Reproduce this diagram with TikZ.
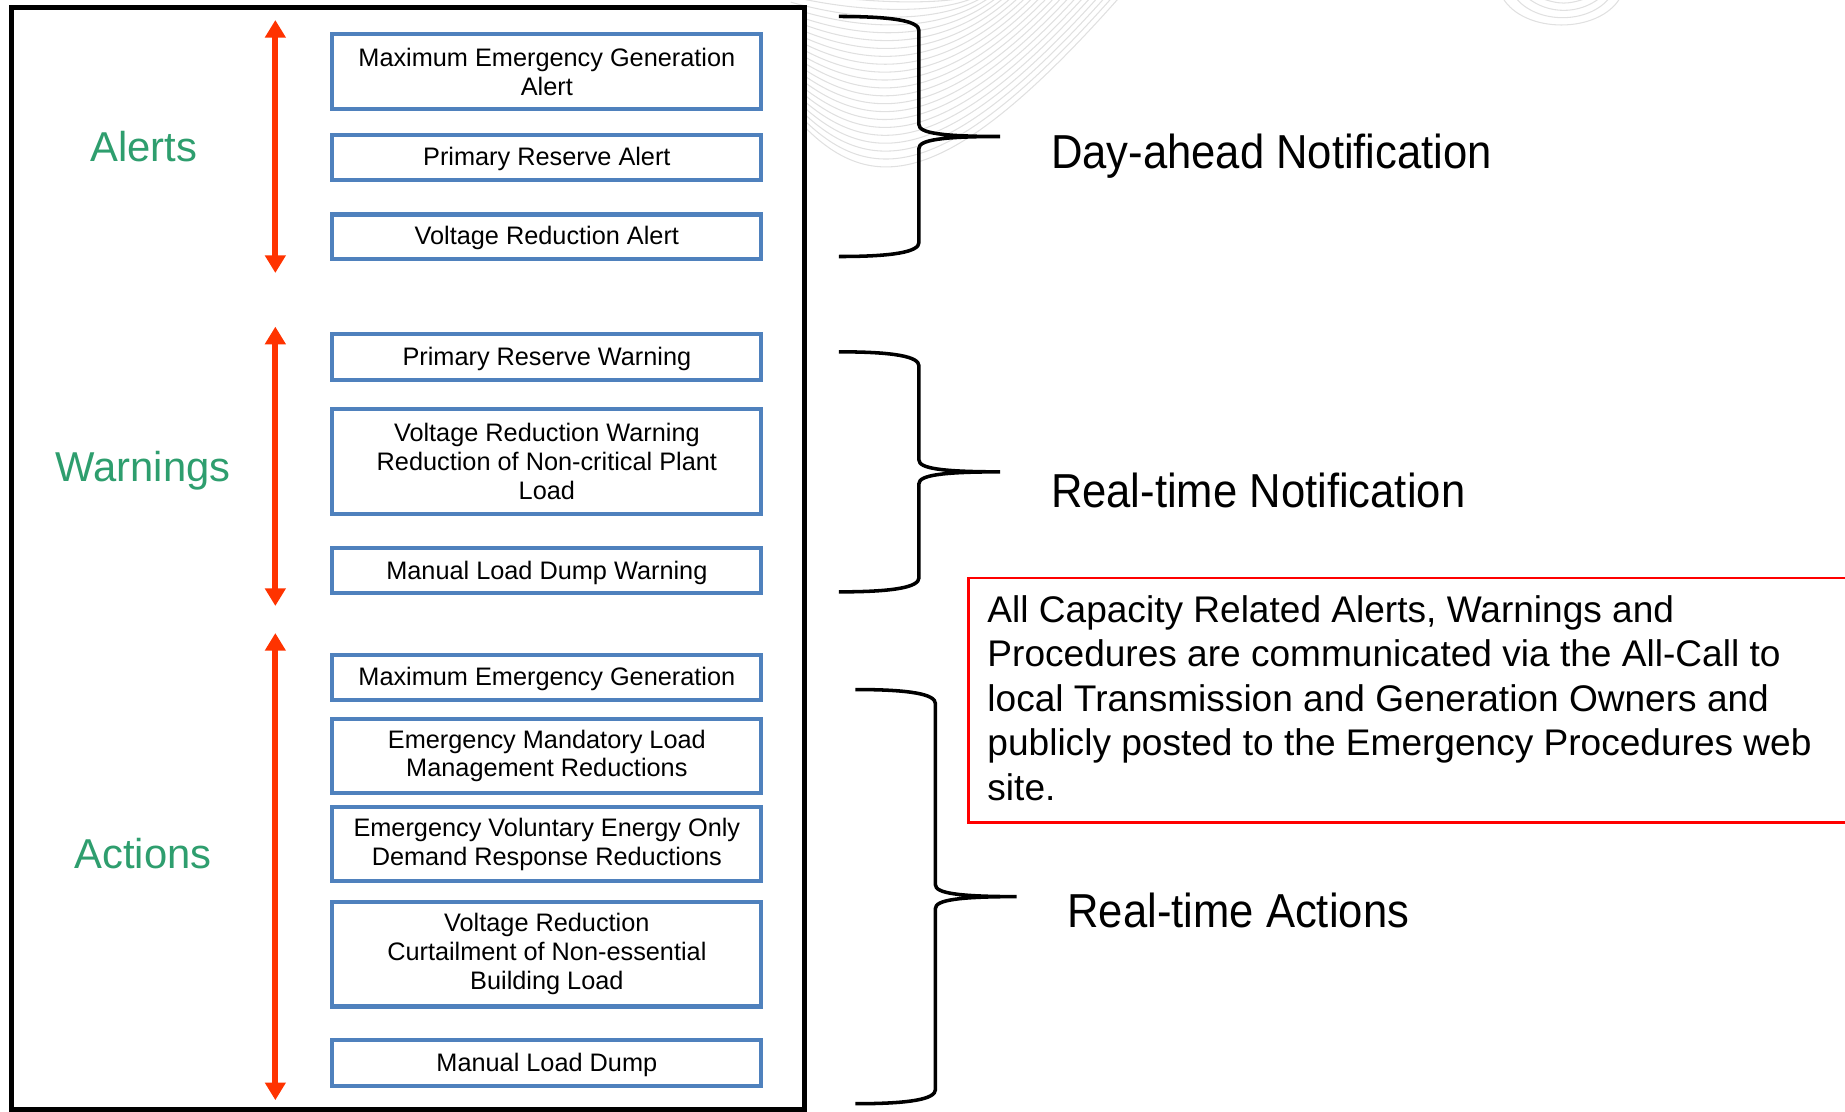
\documentclass[tikz,border=0pt]{standalone}
\usepackage{fontspec}
\setmainfont{Liberation Sans}
\newfontfamily\narrowfont[FakeStretch=0.915]{Liberation Sans}
\usetikzlibrary{arrows.meta}
\definecolor{boxblue}{RGB}{79,129,189}
\definecolor{arrowred}{RGB}{255,51,0}
\definecolor{lblgreen}{RGB}{46,158,110}
\definecolor{bgline}{RGB}{224,224,224}
\begin{document}
\begin{tikzpicture}[x=1pt,y=-1pt,
  stepbox/.style={draw=boxblue, line width=3.5pt, fill=white, minimum width=364.5pt,
    inner sep=0pt, align=center, font=\fontsize{21.5}{24.5}\selectfont},
  oneline/.style={text height=16pt, text depth=2pt},
  grouplabel/.style={text=lblgreen, font=\fontsize{35.5}{42}\selectfont, inner sep=0pt, anchor=base},
  phaselabel/.style={font=\narrowfont\fontsize{40.5}{48}\selectfont, anchor=base west, inner sep=0pt},
  levelarrow/.style={draw=arrowred, line width=5pt,
    {Triangle[width=17pt,length=15pt]}-{Triangle[width=17pt,length=15pt]}},
  bracket/.style={draw=black, line width=3pt},
  bgcurve/.style={draw=bgline, line width=0.9pt},
]
\useasboundingbox (0,0) rectangle (1568,945);

% faint background curves
\foreach \i in {0,...,21}{
  \pgfmathsetmacro\f{\i/21}
  \pgfmathsetmacro\ya{-8+103*\f}
  \pgfmathsetmacro\c{3.8+165*\f}
  \pgfmathsetmacro\xe{824+128*\f}
  \draw[bgcurve] (672,\ya) .. controls (735,\c) and (800,\c) .. (\xe,-3);
}
\foreach \d/\xa/\xb in {21/1277/1377, 15/1288/1368, 9/1298/1360, 3/1308/1350}{
  \draw[bgcurve] (\xa,-2) .. controls (\xa+18,1.38*\d) and (\xb-18,1.38*\d) .. (\xb,-2);
}

% frame
\draw[line width=4.3pt, fill=white] (10,6) rectangle (683.5,942.6);

% boxes
\node[stepbox, minimum height=63.5pt] (b1) at (464.75,61) {Maximum Emergency Generation\\Alert};
\node[stepbox, oneline, minimum height=38.5pt] (b2) at (464.75,133.75) {Primary Reserve Alert};
\node[stepbox, oneline, minimum height=37.7pt] (b3) at (464.75,201.15) {Voltage Reduction Alert};
\node[stepbox, oneline, minimum height=39pt] (b4) at (464.75,303.5) {Primary Reserve Warning};
\node[stepbox, minimum height=89pt] (b5) at (464.75,392) {Voltage Reduction Warning\\Reduction of Non-critical Plant\\Load};
\node[stepbox, oneline, minimum height=38.3pt] (b6) at (464.75,485.15) {Manual Load Dump Warning};
\node[stepbox, oneline, minimum height=38.3pt] (b7) at (464.75,575.85) {Maximum Emergency Generation};
\node[stepbox, minimum height=62.9pt] (b8) at (464.75,642.5) {Emergency Mandatory Load\\Management Reductions};
\node[stepbox, minimum height=63pt] (b9) at (464.75,717.5) {Emergency Voluntary Energy Only\\Demand Response Reductions};
\node[stepbox, minimum height=88.7pt] (b10) at (464.75,811) {Voltage Reduction\\Curtailment of Non-essential\\Building Load};
\node[stepbox, oneline, minimum height=39.2pt] (b11) at (464.75,903.4) {Manual Load Dump};

% group labels
\node[grouplabel] (alerts) at (122,137) {Alerts};
\node[grouplabel] (warnings) at (121.5,409) {Warnings};
\node[grouplabel] (actions) at (121.5,738) {Actions};

% red double arrows
\coordinate (a1t) at (234,17);
\coordinate (a1b) at (234,232);
\coordinate (a2t) at (234,277.6);
\coordinate (a2b) at (234,515);
\coordinate (a3t) at (234,538);
\coordinate (a3b) at (234,935);
\draw[levelarrow] (a1t) -- (a1b);
\draw[levelarrow] (a2t) -- (a2b);
\draw[levelarrow] (a3t) -- (a3b);

% braces
\draw[bracket] (713,14) .. controls (760,14) and (781,18) .. (781,26) -- (781,106)
  .. controls (781,113) and (800,116) .. (850,116)
  .. controls (800,116) and (781,119) .. (781,126) -- (781,206)
  .. controls (781,214) and (760,218) .. (713,218);
\draw[bracket] (713,299) .. controls (760,299) and (781,303) .. (781,311) -- (781,391)
  .. controls (781,398) and (800,401) .. (850,401)
  .. controls (800,401) and (781,404) .. (781,411) -- (781,491)
  .. controls (781,499) and (760,503) .. (713,503);
\draw[bracket] (727,586) .. controls (774,586) and (795,590) .. (795,598) -- (795,752)
  .. controls (795,759) and (814,762) .. (864,762)
  .. controls (814,762) and (795,765) .. (795,772) -- (795,926)
  .. controls (795,934) and (774,938) .. (727,938);

% phase labels
\node[phaselabel] (dayahead) at (893,143.5) {Day-ahead Notification};
\node[phaselabel] (rtnotif) at (893,431) {Real-time Notification};
\node[phaselabel] (rtact) at (907,788) {Real-time Actions};

% note box
\node[draw=red, line width=2pt, minimum width=800pt, minimum height=208pt,
  anchor=north west, inner sep=0pt] (notebox) at (822,490) {};
\node[anchor=north west, inner sep=0pt, align=left, font=\fontsize{31.5}{37.8}\selectfont]
  (notetext) at (839,506) {All Capacity Related Alerts, Warnings and\\
  Procedures are communicated via the All-Call to\\
  local Transmission and Generation Owners and\\
  publicly posted to the Emergency Procedures web\\
  site.};
\end{tikzpicture}
\end{document}
